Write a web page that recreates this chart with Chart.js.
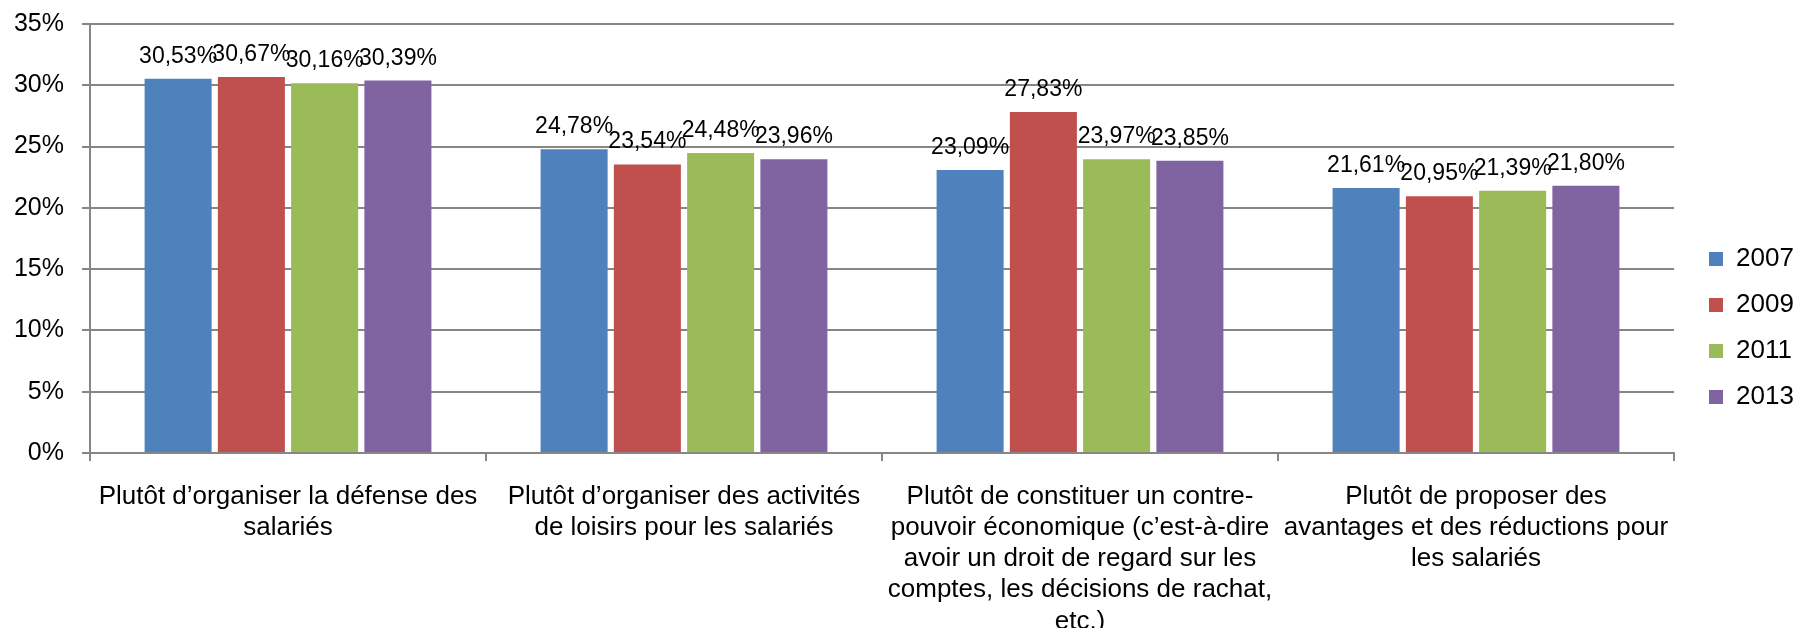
<!DOCTYPE html>
<html lang="fr">
<head>
<meta charset="utf-8">
<script src="https://cdn.jsdelivr.net/npm/chart.js@4/dist/chart.umd.min.js"></script>
<style>
  html, body { margin: 0; padding: 0; background: #ffffff; }
  #wrap { width: 1798px; height: 628px; }
</style>
</head>
<body>
<div id="wrap"><canvas id="barChart" width="1798" height="628"></canvas></div>
<script>
/* =====================================================
   DONNÉES
===================================================== */

const categories = [
  ["Plutôt d’organiser la défense des", "salariés"],
  ["Plutôt d’organiser des activités", "de loisirs pour les salariés"],
  ["Plutôt de constituer un contre-", "pouvoir économique (c’est-à-dire",
   "avoir un droit de regard sur les", "comptes, les décisions de rachat,", "etc.)"],
  ["Plutôt de proposer des", "avantages et des réductions pour", "les salariés"]
];

const years = ["2007", "2009", "2011", "2013"];

const values2007 = [30.53, 24.78, 23.09, 21.61];
const values2009 = [30.67, 23.54, 27.83, 20.95];
const values2011 = [30.16, 24.48, 23.97, 21.39];
const values2013 = [30.39, 23.96, 23.85, 21.80];

const yTicks = [0, 5, 10, 15, 20, 25, 30, 35];

const colors = ["#4F81BD", "#C0504D", "#9BBB59", "#8064A2"];


/* =====================================================
   PLUGINS
===================================================== */

const FONT = "'Liberation Sans', Arial, sans-serif";

// étiquettes de valeur au-dessus des barres
const valueLabels = {
  id: "valueLabels",
  afterDatasetsDraw(chart){
    const ctx = chart.ctx;
    ctx.save();
    ctx.font = "23px " + FONT;
    ctx.fillStyle = "#000000";
    ctx.textAlign = "center";
    ctx.textBaseline = "alphabetic";
    chart.data.datasets.forEach((ds, i) => {
      chart.getDatasetMeta(i).data.forEach((bar, j) => {
        const txt = ds.data[j].toFixed(2).replace(".", ",") + "%";
        ctx.fillText(txt, bar.x, bar.y - 16);
      });
    });
    ctx.restore();
  }
};

// légende : largeur fixe et petit décalage
const legendPlace = {
  id: "legendPlace",
  afterInit(chart){
    const legend = chart.legend;
    const fit = legend.fit;
    legend.fit = function(){
      fit.call(this);
      this.width = 124;
    };
  },
  afterLayout(chart){
    chart.legend.left += 15;
    chart.legend.top += 4;
  }
};


/* =====================================================
   GRAPHIQUE
===================================================== */

const yearData = [values2007, values2009, values2011, values2013];

new Chart(document.getElementById("barChart"), {
  type: "bar",
  data: {
    labels: categories,
    datasets: years.map((y, i) => ({
      label: y,
      data: yearData[i],
      backgroundColor: colors[i],
      borderWidth: 0,
      categoryPercentage: 0.74,
      barPercentage: 0.915
    }))
  },
  options: {
    responsive: false,
    devicePixelRatio: 1,
    animation: false,
    layout: { padding: { top: 24, left: 0, right: 0, bottom: 0 } },
    plugins: {
      tooltip: { enabled: false },
      legend: {
        position: "right",
        labels: {
          boxWidth: 14,
          boxHeight: 14,
          padding: 20,
          color: "#000000",
          font: { family: FONT, size: 26 }
        }
      }
    },
    scales: {
      x: {
        afterFit: (scale) => {
          scale.height = 175;
          scale.paddingLeft = 0;
          scale.paddingRight = 0;
        },
        grid: {
          offset: true,
          drawOnChartArea: false,
          drawTicks: true,
          tickLength: 8,
          color: "#868686",
          lineWidth: 2
        },
        border: { color: "#868686", width: 2 },
        ticks: {
          autoSkip: false,
          maxRotation: 0,
          padding: 20,
          color: "#000000",
          font: { family: FONT, size: 26, lineHeight: 1.2 }
        }
      },
      y: {
        min: 0,
        max: 35,
        afterFit: (scale) => {
          scale.width = 90;
          scale.paddingTop = 0;
          scale.paddingBottom = 0;
        },
        afterBuildTicks: (scale) => {
          scale.ticks = yTicks.map(v => ({ value: v }));
        },
        grid: {
          color: "#868686",
          lineWidth: 2,
          tickLength: 8
        },
        border: { color: "#868686", width: 2 },
        ticks: {
          padding: 18,
          color: "#000000",
          font: { family: FONT, size: 25 },
          callback: (v) => v + "%"
        }
      }
    }
  },
  plugins: [valueLabels, legendPlace]
});
</script>
</body>
</html>
